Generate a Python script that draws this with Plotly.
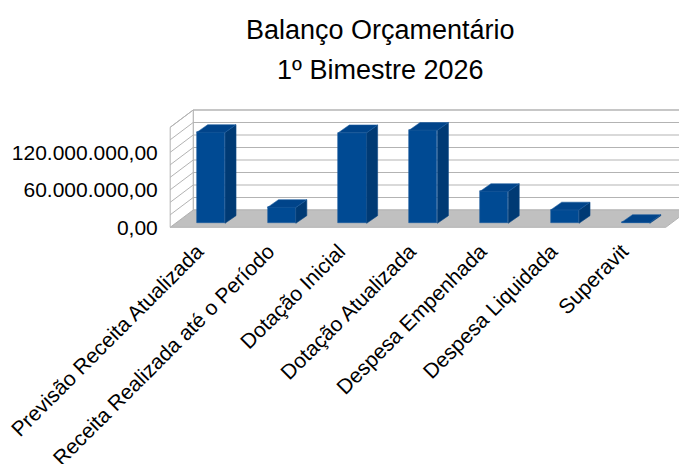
import plotly.graph_objects as go

categories = ["Previsão Receita Atualizada", "Receita Realizada até o Período",
              "Dotação Inicial", "Dotação Atualizada", "Despesa Empenhada",
              "Despesa Liquidada", "Superavit"]
values = [145.5e6, 25.5e6, 145.0e6, 149.0e6, 51.0e6, 21.5e6, 1.5e6]
ytick_vals = [0, 60e6, 120e6]
ytick_text = ["0,00", "60.000.000,00", "120.000.000,00"]
title_lines = ["Balanço Orçamentário", "1º Bimestre 2026"]

FONT = "Liberation Sans, Arial, sans-serif"

# geometry (pseudo-3D oblique projection), in axis units
YMAX = 160e6
GSTEP = 20e6
DX, DY = 0.325, 27.7e6          # wall depth
F0 = 0.23                        # bar front depth fraction
BX, BY = F0 * DX, F0 * DY        # bar front offset
BW = 0.4                         # bar width
BDX, BDY = 0.155, 12.3e6         # bar depth
n = len(categories)
x0, x1 = -0.5, n - 0.5

grid_col = "#b3b3b3"
shapes = []
shapes.append(dict(type="path", xref="x", yref="y", layer="below",
                   path=f"M{x0+DX},{DY} L{x1+DX},{DY} L{x1+DX},{DY+YMAX} L{x0+DX},{DY+YMAX} Z",
                   fillcolor="white", line=dict(color=grid_col, width=1)))
shapes.append(dict(type="path", xref="x", yref="y", layer="below",
                   path=f"M{x0},0 L{x1},0 L{x1+DX},{DY} L{x0+DX},{DY} Z",
                   fillcolor="#c0c0c0", line=dict(color=grid_col, width=1)))
shapes.append(dict(type="path", xref="x", yref="y", layer="below",
                   path=f"M{x0},0 L{x0+DX},{DY} L{x0+DX},{DY+YMAX} L{x0},{YMAX} Z",
                   fillcolor="white", line=dict(color=grid_col, width=1)))
k = 1
while k * GSTEP <= YMAX + 1:
    g = k * GSTEP
    shapes.append(dict(type="line", xref="x", yref="y", layer="below",
                       x0=x0 + DX, x1=x1 + DX, y0=DY + g, y1=DY + g,
                       line=dict(color=grid_col, width=1.2)))
    shapes.append(dict(type="line", xref="x", yref="y", layer="below",
                       x0=x0, x1=x0 + DX, y0=g, y1=DY + g,
                       line=dict(color=grid_col, width=1)))
    k += 1

fig = go.Figure()
xs = [i + BX for i in range(n)]
fig.add_trace(go.Bar(x=xs, y=values, base=[BY] * n, width=[BW] * n,
                     marker=dict(color="#004a93", line=dict(color="#1d5c9e", width=0.6)),
                     hoverinfo="skip", showlegend=False))

side_x, side_y, top_x, top_y = [], [], [], []
for xc, v in zip(xs, values):
    xl, xr = xc - BW / 2, xc + BW / 2
    b, t = BY, BY + v
    side_x += [xr, xr + BDX, xr + BDX, xr, xr, None]
    side_y += [b, b + BDY, t + BDY, t, b, None]
    top_x += [xl, xr, xr + BDX, xl + BDX, xl, None]
    top_y += [t, t, t + BDY, t + BDY, t, None]
fig.add_trace(go.Scatter(x=side_x, y=side_y, mode="lines", fill="toself",
                         fillcolor="#003a74", line=dict(color="#0d4a86", width=0.6),
                         hoverinfo="skip", showlegend=False))
fig.add_trace(go.Scatter(x=top_x, y=top_y, mode="lines", fill="toself",
                         fillcolor="#00448a", line=dict(color="#1d5c9e", width=0.6),
                         hoverinfo="skip", showlegend=False))

PXU = 70.8
left_px, right_px = 165, 679
top_px, bot_px = 100, 235
front_left_px = 170.2
zero_px = 227.3
xr0 = x0 - (front_left_px - left_px) / PXU
xr1 = xr0 + (right_px - left_px) / PXU
yr1 = (zero_px - top_px) * 1.6e6
yr0 = -(bot_px - zero_px) * 1.6e6
plot_h = bot_px - top_px
plot_w = right_px - left_px

label_x = [x - 0.19 for x in xs]

annotations = []
for line, ypx in zip(title_lines, [30, 70]):
    annotations.append(dict(text=line, xref="paper", yref="paper",
                            x=(380 - left_px) / plot_w, y=(bot_px - ypx) / plot_h,
                            xanchor="center", yanchor="middle", showarrow=False,
                            font=dict(family=FONT, size=27, color="black")))

fig.update_layout(
    width=679, height=464,
    margin=dict(l=left_px, r=679 - right_px, t=top_px, b=464 - bot_px, autoexpand=False),
    paper_bgcolor="white", plot_bgcolor="white",
    shapes=shapes,
    annotations=annotations,
    xaxis=dict(range=[xr0, xr1], tickvals=label_x, ticktext=categories, tickangle=-45,
               showgrid=False, zeroline=False, showline=False,
               tickfont=dict(family=FONT, size=21, color="black"),
               ticks="", ticklabelstandoff=-1),
    yaxis=dict(range=[yr0, yr1], tickvals=ytick_vals, ticktext=ytick_text,
               showgrid=False, zeroline=False, showline=False,
               tickfont=dict(family=FONT, size=21, color="black"),
               ticks="outside", ticklen=2, tickcolor="rgba(0,0,0,0)"),
    bargap=0,
)
fig.write_html("out.html", config={"displayModeBar": False},
               post_script="document.body.style.margin='0';")
